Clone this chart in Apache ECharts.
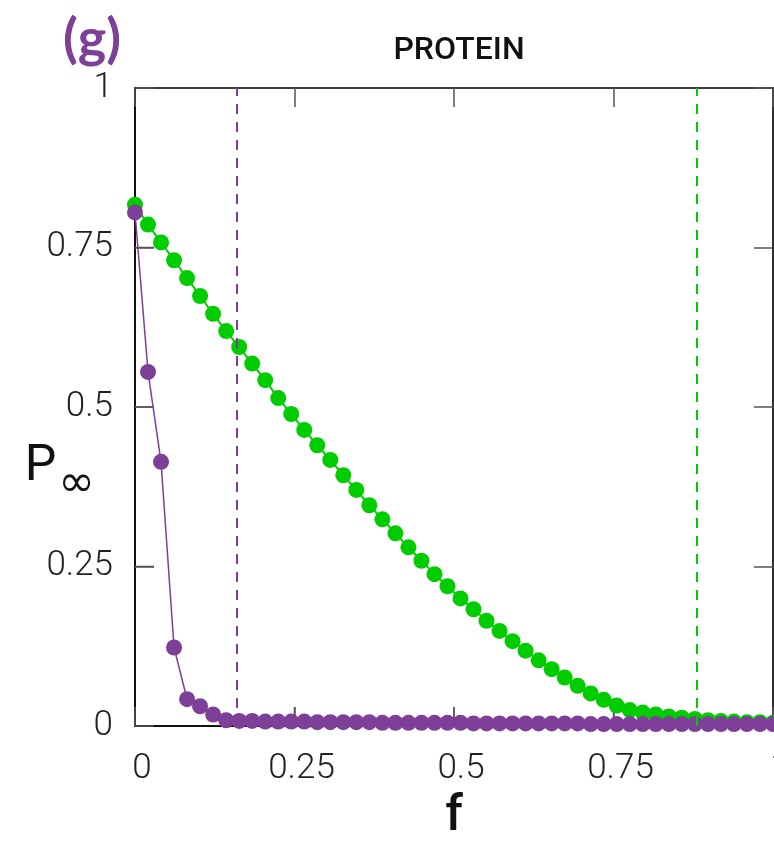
<!DOCTYPE html>
<html>
<head>
<meta charset="utf-8">
<script src="https://cdn.jsdelivr.net/npm/echarts@6/dist/echarts.min.js"></script>
<style>
html,body{margin:0;padding:0;background:#fff;}
#chart{width:774px;height:841px;}
</style>
</head>
<body>
<div id="chart"></div>
<script>
const fValues = [0, 0.0204, 0.0408, 0.0612, 0.0816, 0.102, 0.1224, 0.1429, 0.1633, 0.1837,
  0.2041, 0.2245, 0.2449, 0.2653, 0.2857, 0.3061, 0.3265, 0.3469, 0.3673, 0.3878,
  0.4082, 0.4286, 0.449, 0.4694, 0.4898, 0.5102, 0.5306, 0.551, 0.5714, 0.5918,
  0.6122, 0.6327, 0.6531, 0.6735, 0.6939, 0.7143, 0.7347, 0.7551, 0.7755, 0.7959,
  0.8163, 0.8367, 0.8571, 0.8776, 0.898, 0.9184, 0.9388, 0.9592, 0.9796, 1];
const greenP = [0.817, 0.786, 0.758, 0.730, 0.702, 0.674, 0.646, 0.619, 0.594, 0.568,
  0.542, 0.514, 0.489, 0.464, 0.440, 0.417, 0.393, 0.370, 0.346, 0.324,
  0.302, 0.280, 0.259, 0.238, 0.219, 0.200, 0.183, 0.165, 0.149, 0.133,
  0.118, 0.103, 0.089, 0.076, 0.063, 0.051, 0.041, 0.032, 0.025, 0.021,
  0.018, 0.015, 0.013, 0.011, 0.009, 0.008, 0.007, 0.006, 0.006, 0.005];
const purpleP = [0.805, 0.555, 0.414, 0.123, 0.042, 0.031, 0.018, 0.009, 0.008, 0.008,
  0.007, 0.007, 0.007, 0.007, 0.006, 0.006, 0.006, 0.006, 0.006, 0.005,
  0.005, 0.005, 0.005, 0.005, 0.005, 0.005, 0.004, 0.004, 0.004, 0.004,
  0.004, 0.004, 0.004, 0.004, 0.004, 0.003, 0.003, 0.003, 0.003, 0.003,
  0.003, 0.003, 0.003, 0.003, 0.003, 0.003, 0.003, 0.003, 0.003, 0.003];
const thresholdPurple = 0.159;
const thresholdGreen = 0.880;
const tickValues = [0, 0.25, 0.5, 0.75, 1];
const tickLabels = ['0', '0.25', '0.5', '0.75', '1'];
const titleText = 'PROTEIN';
const panelLabel = '(g)';

const GREEN = '#00cc00';
const PURPLE = '#7e3f98';
const TICK_PX = 19;

function fmt(v){
  const i = tickValues.findIndex(t => Math.abs(t - v) < 1e-9);
  return i >= 0 ? tickLabels[i] : '';
}
function innerTick(len){
  return {show: true, inside: true, length: len, lineStyle: {color: '#555', width: 1.5}};
}
function labelFont(){
  return {fontFamily: 'Roboto', fontWeight: 300, fontSize: 35, color: '#222'};
}

// inner ticks for the left and bottom edges, positioned through the axis scales
function renderEdgeTicks(params, api){
  const v = api.value(0);
  const pb = api.coord([v, 0]);   // on bottom edge
  const pl = api.coord([0, v]);   // on left edge
  const style = {stroke: '#555', lineWidth: 1.5};
  return {type: 'group', children: [
    {type: 'line', shape: {x1: pb[0], y1: pb[1], x2: pb[0], y2: pb[1] - TICK_PX}, style: style},
    {type: 'line', shape: {x1: pl[0], y1: pl[1], x2: pl[0] + TICK_PX, y2: pl[1]}, style: style}
  ]};
}

const chart = echarts.init(document.getElementById('chart'));
chart.setOption({
  animation: false,
  title: [
    {text: titleText, left: 454, top: 30, textAlign: 'center',
     textStyle: {fontFamily: 'Roboto', fontWeight: 500, fontSize: 32, color: '#111'}},
    {text: panelLabel, left: 58, top: 8,
     textStyle: {fontFamily: 'Lato', fontWeight: 'bold', fontSize: 54, color: PURPLE}}
  ],
  grid: {left: 135, right: 1, top: 88, bottom: 115, containLabel: false, outerBoundsMode: 'none',
         show: true, borderColor: '#222', borderWidth: 1.5, backgroundColor: 'transparent'},
  xAxis: [
    {type: 'value', min: 0, max: 1, interval: 0.25, position: 'bottom',
     name: 'f', nameLocation: 'middle', nameGap: 66, nameMoveOverlap: false,
     nameTextStyle: {fontFamily: 'Roboto', fontWeight: 500, fontSize: 50, color: '#111'},
     axisLine: {show: true, onZero: false, lineStyle: {color: '#111', width: 2}},
     axisTick: innerTick(TICK_PX),
     axisLabel: Object.assign({margin: 26, formatter: fmt, padding: [0, 0, 0, 14], showMaxLabel: true}, labelFont()),
     splitLine: {show: false}},
    {type: 'value', min: 0, max: 1, interval: 0.25, position: 'top',
     axisLine: {show: true, onZero: false, lineStyle: {color: '#333', width: 1.5}},
     axisTick: innerTick(TICK_PX),
     axisLabel: {show: false}, splitLine: {show: false}}
  ],
  yAxis: [
    {type: 'value', min: 0, max: 1, interval: 0.25, position: 'left',
     name: '{p|P}{s|∞}', nameLocation: 'middle', nameGap: 40, nameRotate: 0, nameMoveOverlap: false,
     nameTextStyle: {verticalAlign: 'top', padding: [20, 0, 0, 0], rich: {
       p: {fontFamily: 'Roboto', fontSize: 50, color: '#111'},
       s: {fontFamily: 'DejaVu Sans', fontSize: 44, color: '#111', padding: [36, 0, 0, 2]}
     }},
     axisLine: {show: true, onZero: false, lineStyle: {color: '#111', width: 2}},
     axisTick: innerTick(TICK_PX),
     axisLabel: Object.assign({margin: 22, formatter: fmt}, labelFont()),
     splitLine: {show: false}},
    {type: 'value', min: 0, max: 1, interval: 0.25, position: 'right',
     axisLine: {show: true, onZero: false, lineStyle: {color: '#222', width: 1.5}},
     axisTick: innerTick(TICK_PX),
     axisLabel: {show: false}, splitLine: {show: false}}
  ],
  series: [
    {type: 'line', name: 'frameTR', xAxisIndex: 1, yAxisIndex: 1, data: [], silent: true},
    {type: 'custom', name: 'edgeTicks', xAxisIndex: 0, yAxisIndex: 0, silent: true, z: 2, clip: false,
     renderItem: renderEdgeTicks,
     data: tickValues.filter(v => v > 0 && v < 1).map(v => [v, 0])},
    {type: 'line', name: 'green', data: fValues.map((f, i) => [f, greenP[i]]),
     symbol: 'circle', symbolSize: 16, z: 3,
     lineStyle: {color: GREEN, width: 2}, itemStyle: {color: GREEN},
     markLine: {silent: true, symbol: 'none', label: {show: false},
       lineStyle: {color: GREEN, type: [10, 8], width: 2},
       data: [[{coord: [thresholdGreen, 0]}, {coord: [thresholdGreen, 1]}]]}},
    {type: 'line', name: 'purple', data: fValues.map((f, i) => [f, purpleP[i]]),
     symbol: 'circle', symbolSize: 16, z: 4,
     lineStyle: {color: PURPLE, width: 1.5}, itemStyle: {color: PURPLE},
     markLine: {silent: true, symbol: 'none', label: {show: false},
       lineStyle: {color: PURPLE, type: [10, 8], width: 2},
       data: [[{coord: [thresholdPurple, 0]}, {coord: [thresholdPurple, 1]}]]}}
  ]
});
</script>
</body>
</html>
